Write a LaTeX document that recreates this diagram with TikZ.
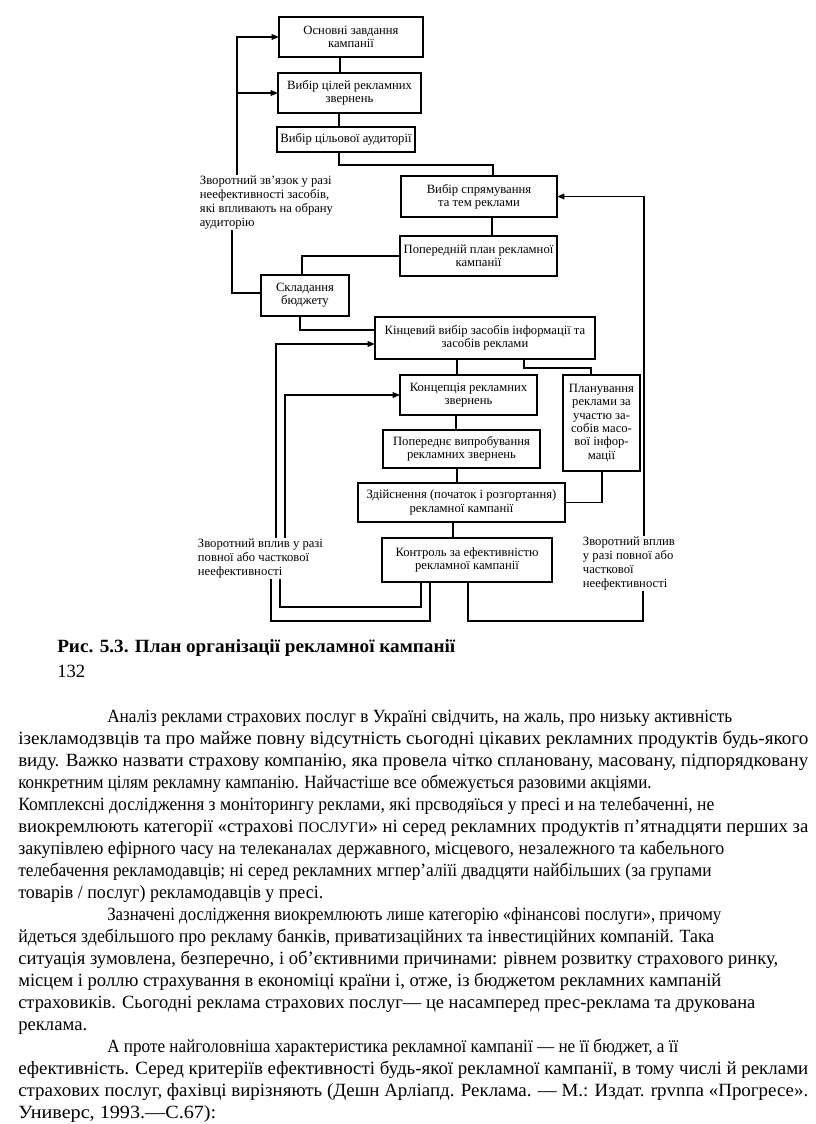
\documentclass[tikz,border=0pt]{standalone}
\usepackage{graphicx}
\usepackage{fontspec}
\setmainfont{Liberation Serif}
\usetikzlibrary{arrows.meta,calc}
\newcommand\mybox[6]{\node[box,minimum width={(#4-#2)*0.75pt},minimum height={(#5-#3)*0.75pt}] (#1) at ({(#2+#4)/2},{(#3+#5)/2}) {#6};}
\newcommand\fitln[2]{\resizebox{#1pt}{\height}{#2}}
\begin{document}
\begin{tikzpicture}[x=0.75pt,y=-0.75pt,
  box/.style={draw,line width=1pt,inner sep=0pt,outer sep=0pt,align=center,font=\fontsize{9.5}{10}\selectfont},
  lbl/.style={align=left,inner sep=0.5pt,anchor=north west,font=\fontsize{9.5}{10.5}\selectfont},
  ln/.style={line width=1pt},
  arr/.style={ln,-{Triangle[length=5.5pt,width=4.2pt]}},
  body/.style={anchor=base west,inner sep=0pt,font=\fontsize{14}{16}\selectfont},
  captxt/.style={anchor=base west,inner sep=0pt,font=\bfseries\fontsize{14}{16}\selectfont}]
\fill[white] (0,0) rectangle (816,1124);
\useasboundingbox (0,0) rectangle (816,1124);

% boxes
\mybox{b1}{279}{17}{423}{57}{Основні завдання\\кампанії}
\mybox{b2}{278}{73}{421}{113}{Вибір цілей рекламних\\звернень}
\mybox{b3}{277}{127}{415}{152}{Вибір цільової аудиторії}
\mybox{b4}{401}{176}{557}{217}{Вибір спрямування\\та тем реклами}
\mybox{b5}{400}{236}{557}{276}{Попередній план рекламної\\кампанії}
\mybox{b6}{261}{275}{349}{316}{Складання\\бюджету}
\mybox{b7}{375}{317}{595}{359}{Кінцевий вибір засобів інформації та\\засобів реклами}
\mybox{b8}{400}{375}{537}{415}{Концепція рекламних\\звернень}
\mybox{b9}{563}{375}{640}{471}{Планування\\реклами за\\участю за-\\собів масо-\\вої інфор-\\мації}
\mybox{b10}{383}{430}{540}{468}{Попереднє випробування\\рекламних звернень}
\mybox{b11}{358}{483}{565}{522}{Здійснення (початок і розгортання)\\рекламної кампанії}
\mybox{b12}{382}{538}{552}{582}{Контроль за ефективністю\\рекламної кампанії}

% labels
\node[lbl] (lblA) at (199,175) {Зворотний зв’язок у разі\\неефективності засобів,\\які впливають на обрану\\аудиторію};
\node[lbl] (lblB) at (197,538) {Зворотний вплив у разі\\повної або часткової\\неефективності};
\node[lbl] (lblC) at (582,536) {Зворотний вплив\\у разі повної або\\часткової\\неефективності};

% main chain
\draw[ln] (b1.south -| 340,0) -- (b2.north -| 340,0);
\draw[ln] (b2.south -| 339,0) -- (b3.north -| 339,0);
\draw[ln] (b3.south -| 339,0) -- ++(0,13) -| (b4.north -| 493,0);
\draw[ln] (b4.south -| 492,0) -- (b5.north -| 492,0);
\draw[ln] (b5.west) -| (b6.north -| 302,0);
\draw[ln] (b6.south -| 300,0) |- (b7.west |- 0,330);
\draw[ln] (b7.south -| 457,0) -- (b8.north -| 457,0);
\draw[ln] (b7.south -| 524,0) -- ++(0,9) -| (b9.north -| 591,0);
\draw[ln] (b8.south -| 456,0) -- (b10.north -| 456,0);
\draw[ln] (b10.south -| 457,0) -- (b11.north -| 457,0);
\draw[ln] (b9.south -| 602,0) |- (b11.east);
\draw[ln] (b11.south -| 453,0) -- (b12.north -| 453,0);

% feedback top-left
\draw[arr] (lblA.north -| 237,0) |- (b1.west);
\draw[arr] (b2.west -| 237,0) -- (b2.west);
\draw[ln] (lblA.south -| 232,0) |- (b6.west |- 0,293);

% feedback right
\draw[arr] (lblC.north -| 644,0) |- (b4.east);
\draw[ln] (b12.south -| 468,0) -- ++(0,39) -| (lblC.south -| 643,0);

% feedback bottom-left
\draw[arr] (lblB.north -| 276,0) |- (b7.west |- 0,344);
\draw[arr] (lblB.north -| 285,0) |- (b8.west);
\draw[ln] (b12.south -| 421,0) -- ++(0,25) -| (lblB.south -| 280,0);
\draw[ln] (b12.south -| 430,0) -- ++(0,39) -| (lblB.south -| 271,0);

% caption
\node[captxt] (capt) at (57,652) {\fitln{298.5}{Рис. 5.3. План організації рекламної кампанії}};
\node[body] (pg) at (57,677) {132};

% body text
\node[body] (t1) at (107,722) {\fitln{468.75}{Аналіз реклами страхових послуг в Україні свідчить, на жаль, про низьку активність}};
\node[body] (t2) at (18,744) {\fitln{592.5}{ізекламодзвців та про майже повну відсутність сьогодні цікавих рекламних продуктів будь-якого}};
\node[body] (t3) at (18,766) {\fitln{592.5}{виду. Важко назвати страхову компанію, яка провела чітко сплановану, масовану, підпорядковану}};
\node[body] (t4) at (18,788) {\fitln{475}{конкретним цілям рекламну кампанію. Найчастіше все обмежується разовими акціями.}};
\node[body] (t5) at (18,810) {\fitln{522}{Комплексні дослідження з моніторингу реклами, які прсводяїься у пресі и на телебаченні, не}};
\node[body] (t6) at (18,832) {\fitln{592.5}{виокремлюють категорії «страхові {\fontsize{11}{12}\selectfont ПОСЛУГИ}» ні серед рекламних продуктів п'ятнадцяти перших за}};
\node[body] (t7) at (18,854) {\fitln{529.5}{закупівлею ефірного часу на телеканалах державного, місцевого, незалежного та кабельного}};
\node[body] (t8) at (18,876) {\fitln{520}{телебачення рекламодавців; ні серед рекламних мгпер'аліїі двадцяти найбільших (за групами}};
\node[body] (t9) at (18,898) {\fitln{228.75}{товарів / послуг) рекламодавців у пресі.}};
\node[body] (t10) at (107,920) {\fitln{460.5}{Зазначені дослідження виокремлюють лише категорію «фінансові послуги», причому}};
\node[body] (t11) at (18,942) {\fitln{522}{йдеться здебільшого про рекламу банків, приватизаційних та інвестиційних компаній. Така}};
\node[body] (t12) at (18,964) {\fitln{570}{ситуація зумовлена, безперечно, і об'єктивними причинами: рівнем розвитку страхового ринку,}};
\node[body] (t13) at (18,986) {\fitln{527.25}{місцем і роллю страхування в економіці країни і, отже, із бюджетом рекламних кампаній}};
\node[body] (t14) at (18,1008) {\fitln{552.75}{страховиків. Сьогодні реклама страхових послуг— це насамперед прес-реклама та друкована}};
\node[body] (t15) at (18,1030) {реклама.};
\node[body] (t16) at (107,1052) {\fitln{428.25}{А проте найголовніша характеристика рекламної кампанії — не її бюджет, а її}};
\node[body] (t17) at (18,1074) {\fitln{592.5}{ефективність. Серед критеріїв ефективності будь-якої рекламної кампанії, в тому числі й реклами}};
\node[body] (t18) at (18,1096) {\fitln{592.5}{страхових послуг, фахівці вирізняють (Дешн Арліапд. Реклама. — М.: Издат. rpvnпa «Прогресе».}};
\node[body] (t19) at (18,1118) {\fitln{148.5}{Универс, 1993.—С.67):}};
\end{tikzpicture}
\end{document}
